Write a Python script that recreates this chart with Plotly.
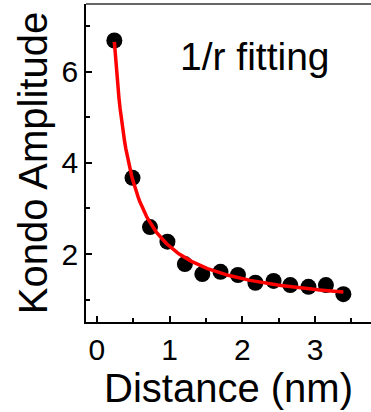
import numpy as np
import plotly.graph_objects as go

# Data
distance_nm = [0.24, 0.49, 0.73, 0.97, 1.21, 1.45, 1.70, 1.94, 2.18, 2.43, 2.66, 2.91, 3.15, 3.39]
kondo_amp = [6.68, 3.67, 2.59, 2.27, 1.78, 1.56, 1.61, 1.54, 1.37, 1.41, 1.32, 1.28, 1.32, 1.12]

x_ticks = [0, 1, 2, 3]
y_ticks = [2, 4, 6]

# 1/r fit (least squares: y = a + b / r)
xd = np.array(distance_nm)
yd = np.array(kondo_amp)
A = np.vstack([np.ones_like(xd), 1.0 / xd]).T
coef, *_ = np.linalg.lstsq(A, yd, rcond=None)
fit_x = np.linspace(xd.min(), xd.max(), 200)
fit_y = coef[0] + coef[1] / fit_x

FONT = "Liberation Sans, Arial, sans-serif"

fig = go.Figure()
fig.add_trace(go.Scatter(x=distance_nm, y=kondo_amp, mode="markers",
                         marker=dict(color="black", size=16, line=dict(width=0)),
                         showlegend=False))
fig.add_trace(go.Scatter(x=fit_x, y=fit_y, mode="lines",
                         line=dict(color="#ff0000", width=3.5),
                         showlegend=False))

fig.add_annotation(x=2.17, y=6.32, xref="x", yref="y", text="1/r fitting",
                   showarrow=False, font=dict(family=FONT, size=39, color="black"),
                   xanchor="center", yanchor="middle")

fig.add_shape(type="line", xref="paper", yref="paper", x0=0, x1=1, y0=1, y1=1,
              line=dict(color="#666666", width=2))

fig.update_xaxes(range=[-0.15, 3.77], tickvals=x_ticks, ticks="inside", ticklen=6,
                 tickwidth=1.5, tickcolor="black",
                 minor=dict(dtick=0.5, tick0=0, ticks="inside", ticklen=4, tickwidth=1.5, tickcolor="black"),
                 showline=True, linecolor="black", linewidth=1.5, showgrid=False, zeroline=False,
                 tickfont=dict(family=FONT, size=30, color="black"),
                 title=dict(text="Distance (nm)", font=dict(family=FONT, size=40, color="black"), standoff=4))
fig.update_yaxes(range=[0.51, 7.48], tickvals=y_ticks, ticks="inside", ticklen=6,
                 tickwidth=1.5, tickcolor="black",
                 minor=dict(dtick=1, tick0=1, ticks="inside", ticklen=4, tickwidth=1.5, tickcolor="black"),
                 showline=True, linecolor="black", linewidth=1.5, showgrid=False, zeroline=False,
                 tickfont=dict(family=FONT, size=30, color="black"),
                 title=dict(text="Kondo Amplitude", font=dict(family=FONT, size=40, color="black"), standoff=2))

fig.update_layout(width=371, height=412, margin=dict(l=86, r=0, t=4, b=90),
                  plot_bgcolor="white", paper_bgcolor="white")

fig.write_html("out.html")
